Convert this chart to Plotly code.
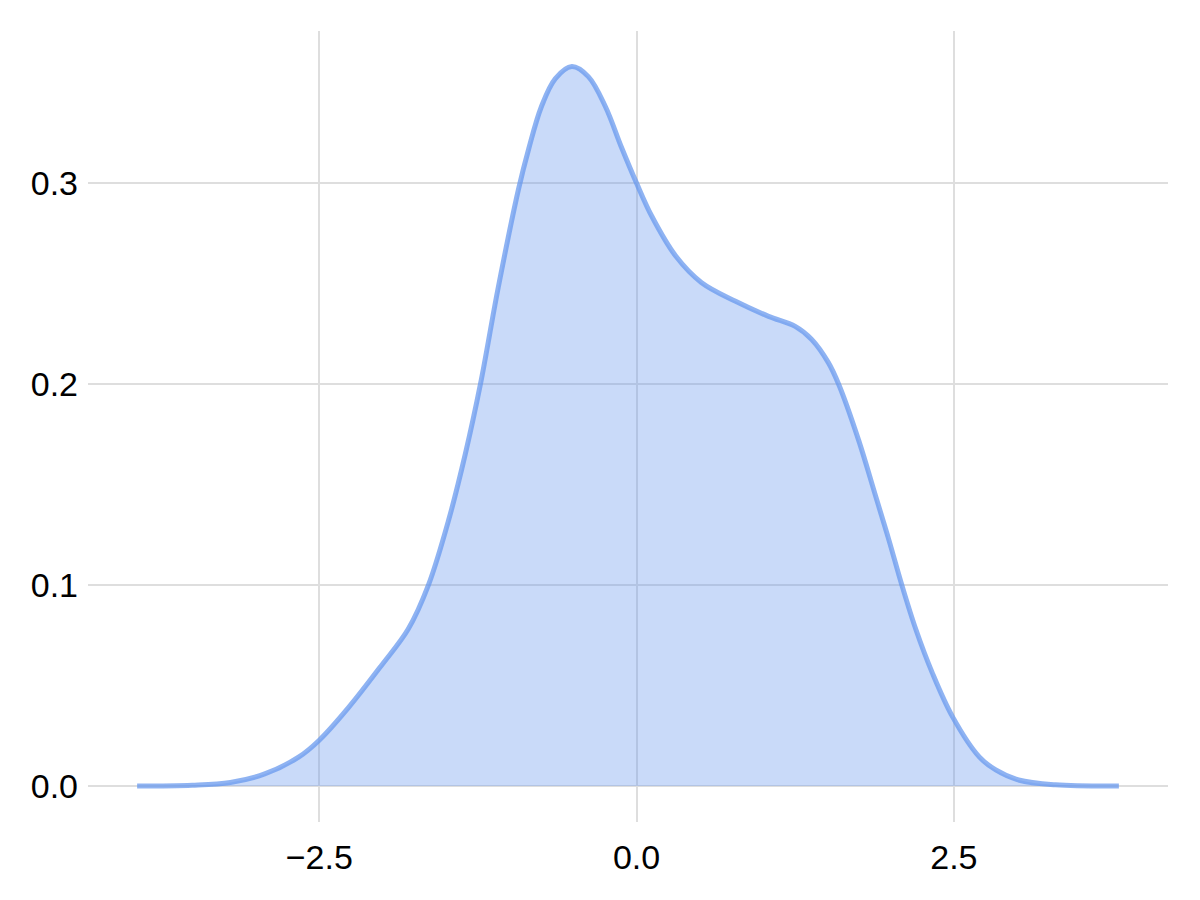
import plotly.graph_objects as go

# Density curve
x_vals = [-3.935, -3.5, -3.2, -2.93, -2.66, -2.5, -2.27, -2.01, -1.80, -1.64,
          -1.48, -1.35, -1.23, -1.09, -0.93, -0.85, -0.75, -0.64, -0.51,
          -0.38, -0.245, -0.12, 0.0, 0.12, 0.31, 0.51, 0.78, 1.04, 1.25,
          1.38, 1.51, 1.593, 1.75, 1.88, 1.99, 2.09, 2.20, 2.33, 2.49, 2.70,
          2.83, 3.01, 3.3, 3.80]
y_vals = [0.0, 0.0004, 0.0018, 0.006, 0.0145, 0.0228, 0.039, 0.060, 0.078, 0.100,
          0.1325, 0.165, 0.2, 0.248, 0.297, 0.317, 0.338, 0.352, 0.358,
          0.353, 0.338, 0.318, 0.300, 0.2835, 0.2636, 0.2506, 0.2412, 0.2337, 0.2287,
          0.2222, 0.2108, 0.1998, 0.172, 0.145, 0.122, 0.100, 0.078, 0.0563, 0.0344, 0.0145,
          0.008, 0.003, 0.0006, 0.0]

x_ticks = [-2.5, 0.0, 2.5]
x_tick_text = ["\u22122.5", "0.0", "2.5"]
y_ticks = [0.0, 0.1, 0.2, 0.3]
y_tick_text = ["0.0", "0.1", "0.2", "0.3"]

fig = go.Figure()
fig.add_trace(go.Scatter(
    x=x_vals, y=y_vals, mode="lines",
    line=dict(color="rgba(100,149,237,0.72)", width=5, shape="spline", smoothing=1.0),
    fill="tozeroy", fillcolor="rgba(100,149,237,0.35)",
    showlegend=False, hoverinfo="skip",
))

grid = "#dedede"
fig.update_layout(
    width=1200, height=900,
    margin=dict(l=80, r=40, t=23, b=86),
    paper_bgcolor="white", plot_bgcolor="white",
    font=dict(family="Liberation Sans, Arial, sans-serif", size=34, color="black"),
    xaxis=dict(range=[-4.322, 4.187], tickvals=x_ticks, ticktext=x_tick_text,
               showgrid=True, gridcolor=grid, gridwidth=2,
               zeroline=True, zerolinecolor=grid, zerolinewidth=2,
               showline=False, ticks="", ticklabelstandoff=12),
    yaxis=dict(range=[-0.0179, 0.3757], tickvals=y_ticks, ticktext=y_tick_text,
               showgrid=True, gridcolor=grid, gridwidth=2,
               zeroline=True, zerolinecolor=grid, zerolinewidth=2,
               showline=False, ticks="", ticklabelstandoff=9),
)

fig.write_html("out.html")
